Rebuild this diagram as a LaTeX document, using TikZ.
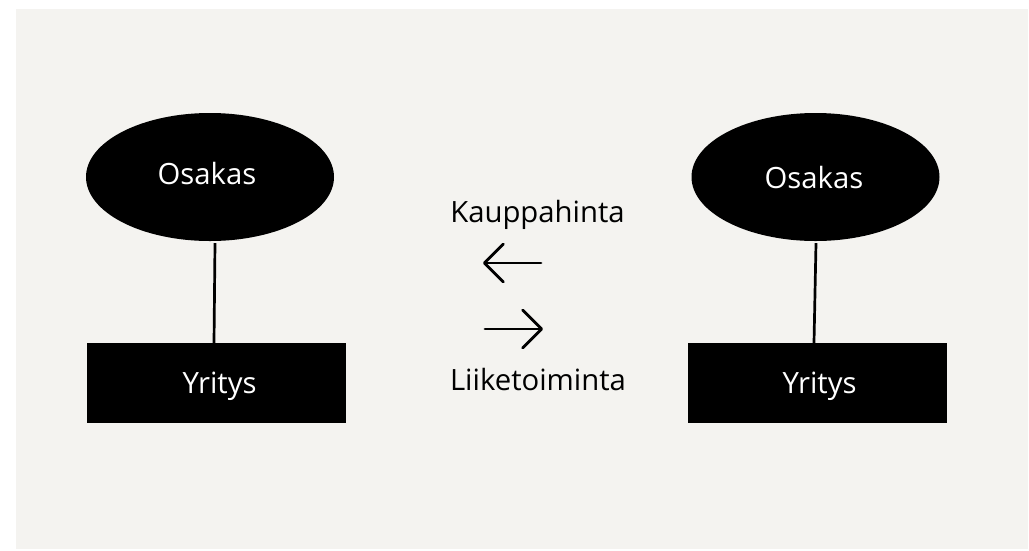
\documentclass[tikz,border=0pt]{standalone}
\usepackage{fontspec}
\setmainfont{Open Sans}
\usetikzlibrary{shapes.geometric,arrows.meta}
\definecolor{bgc}{RGB}{244,243,240}
\tikzset{
  oval/.style={ellipse,fill=black,draw=none,inner sep=0pt,minimum width=248pt,minimum height=128pt},
  firm/.style={rectangle,fill=black,draw=none,inner sep=0pt,minimum width=259pt,minimum height=80pt},
  wlabel/.style={text=white,font=\fontsize{29.3}{33}\selectfont,anchor=base,inner sep=0pt},
  blabel/.style={text=black,font=\fontsize{29.3}{33}\selectfont,anchor=base,inner sep=0pt},
  link/.style={line width=2.7pt},
  flow/.style={line width=2.8pt,line cap=round,-{Straight Barb[length=19pt,width=38pt,line cap=round,line join=round]}}
}
\begin{document}
\begin{tikzpicture}[x=1pt,y=-1pt]
\useasboundingbox (0,0) rectangle (1029,550);
\fill[white] (0,0) rectangle (1029,550);
\fill[bgc] (16,9) rectangle (1028,549);
% left group
\node[oval] (osL) at (210,177) {};
\node[firm] (yrL) at (216,383) {};
\node[wlabel] (tOsL) at (207,184) {Osakas};
\node[wlabel] (tYrL) at (219.5,393) {Yritys};
\draw[link] ([xshift=5pt,yshift=-2pt]osL.south) -- ([xshift=-2pt]yrL.north);
% right group
\node[oval] (osR) at (815.5,177) {};
\node[firm] (yrR) at (817.5,383) {};
\node[wlabel] (tOsR) at (814,188) {Osakas};
\node[wlabel] (tYrR) at (819.5,393) {Yritys};
\draw[link] ([xshift=0.5pt,yshift=-2pt]osR.south) -- ([xshift=-3.5pt]yrR.north);
% middle
\node[blabel] (kh) at (537.5,222) {Kauppahinta};
\node[blabel] (lt) at (538,390) {Liiketoiminta};
\coordinate (a1s) at (541,263);
\coordinate (a1e) at (483,263);
\coordinate (a2s) at (485,329);
\coordinate (a2e) at (543,329);
\draw[flow] (a1s) -- (a1e);
\draw[flow] (a2s) -- (a2e);
\end{tikzpicture}
\end{document}
